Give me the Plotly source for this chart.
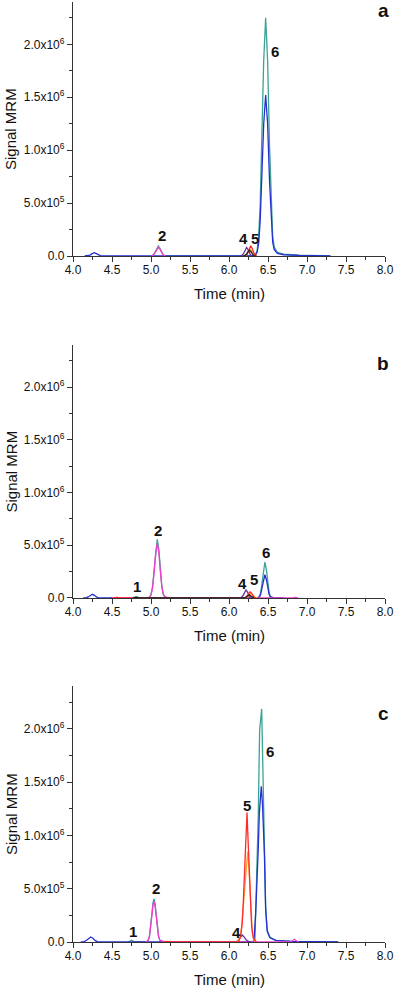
import plotly.graph_objects as go

# ---------------- data (signal in units of 1e5) ----------------
# Panel a
A_TEAL_T = [5.0, 5.03, 5.05, 5.07, 5.094, 5.115, 5.135, 5.155, 5.19,
            6.33, 6.36, 6.38, 6.40, 6.42, 6.445, 6.47, 6.495, 6.52, 6.54, 6.56, 6.58, 6.62, 6.70, 6.90, 7.30]
A_TEAL_Y = [0, 0.1, 0.32, 0.68, 0.94, 0.73, 0.37, 0.12, 0,
            0, 0.5, 1.8, 4.9, 10.3, 18.5, 22.5, 18.5, 10.3, 4.9, 1.9, 0.85, 0.35, 0.18, 0.07, 0]
A_BLUE_T = [4.15, 4.19, 4.22, 4.245, 4.273, 4.30, 4.325, 4.355, 4.39,
            6.33, 6.36, 6.38, 6.40, 6.42, 6.445, 6.47, 6.495, 6.52, 6.54, 6.56, 6.58, 6.62, 6.70, 6.90, 7.30]
A_BLUE_Y = [0, 0.015, 0.09, 0.22, 0.31, 0.22, 0.09, 0.015, 0,
            0, 0.35, 1.2, 3.3, 7.0, 12.5, 15.2, 12.5, 7.0, 3.3, 1.3, 0.6, 0.25, 0.12, 0.05, 0]
A_MAG_T = [5.0, 5.03, 5.05, 5.07, 5.094, 5.115, 5.135, 5.155, 5.19]
A_MAG_Y = [0, 0.09, 0.3, 0.6, 0.82, 0.64, 0.32, 0.1, 0]
A_PUR_T = [6.15, 6.175, 6.19, 6.205, 6.226, 6.245, 6.26, 6.275, 6.30]
A_PUR_Y = [0, 0.11, 0.28, 0.56, 0.80, 0.6, 0.32, 0.12, 0]
A_ORA_T = [6.195, 6.22, 6.235, 6.25, 6.27, 6.29, 6.305, 6.32, 6.345]
A_ORA_Y = [0, 0.09, 0.23, 0.46, 0.66, 0.48, 0.25, 0.09, 0]
A_RED_T = [6.20, 6.227, 6.242, 6.257, 6.278, 6.297, 6.312, 6.327, 6.355]
A_RED_Y = [0, 0.13, 0.34, 0.68, 0.97, 0.73, 0.39, 0.14, 0]
A_BLK_T = [6.19, 6.212, 6.227, 6.242, 6.262, 6.282, 6.297, 6.312, 6.34]
A_BLK_Y = [0, 0.07, 0.19, 0.38, 0.55, 0.4, 0.2, 0.07, 0]

# Panel b
B_TEAL_T = [4.48, 4.51, 4.53, 4.55, 4.58, 4.76, 4.79, 4.81, 4.83, 4.86,
            4.97, 5.00, 5.02, 5.04, 5.06, 5.08, 5.10, 5.12, 5.14, 5.16, 5.19, 5.24,
            6.36, 6.39, 6.405, 6.42, 6.44, 6.46, 6.48, 6.50, 6.515, 6.53, 6.56, 6.62, 6.70]
B_TEAL_Y = [0, 0.04, 0.07, 0.04, 0, 0, 0.08, 0.13, 0.08, 0,
            0, 0.3, 1.06, 2.67, 4.64, 5.56, 4.64, 2.67, 1.06, 0.3, 0.06, 0,
            0, 0.15, 0.5, 1.23, 2.65, 3.41, 2.65, 1.23, 0.5, 0.15, 0.05, 0.02, 0]
B_BLUE_T = [4.13, 4.165, 4.195, 4.22, 4.248, 4.275, 4.30, 4.33, 4.37,
            6.36, 6.39, 6.405, 6.42, 6.44, 6.46, 6.48, 6.50, 6.515, 6.53, 6.56, 6.62, 6.70]
B_BLUE_Y = [0, 0.015, 0.1, 0.25, 0.35, 0.25, 0.1, 0.015, 0,
            0, 0.1, 0.32, 0.8, 1.71, 2.21, 1.71, 0.8, 0.32, 0.1, 0.03, 0.01, 0]
B_MAG_T = [4.50, 4.53, 4.55, 4.57, 4.60,
           4.97, 5.00, 5.02, 5.04, 5.06, 5.08, 5.10, 5.12, 5.14, 5.16, 5.19, 5.26, 5.32,
           6.81, 6.85, 6.89]
B_MAG_Y = [0, 0.05, 0.08, 0.05, 0,
           0, 0.28, 0.99, 2.49, 4.32, 5.18, 4.32, 2.49, 0.99, 0.3, 0.08, 0.02, 0,
           0, 0.05, 0]
B_PUR_T = [6.14, 6.168, 6.183, 6.198, 6.218, 6.238, 6.253, 6.268, 6.295]
B_PUR_Y = [0, 0.1, 0.27, 0.55, 0.76, 0.55, 0.28, 0.1, 0]
B_ORA_T = [6.21, 6.235, 6.25, 6.265, 6.285, 6.305, 6.32, 6.335, 6.36]
B_ORA_Y = [0, 0.06, 0.16, 0.32, 0.45, 0.32, 0.16, 0.06, 0]
B_RED_T = [4.52, 4.56, 4.60, 6.195, 6.22, 6.235, 6.25, 6.27, 6.29, 6.305, 6.32, 6.345]
B_RED_Y = [0, 0.05, 0, 0, 0.08, 0.22, 0.43, 0.6, 0.43, 0.22, 0.08, 0]
B_BLK_T = [4.77, 4.81, 4.85, 6.20, 6.23, 6.26, 6.29, 6.32]
B_BLK_Y = [0, 0.06, 0, 0, 0.15, 0.3, 0.15, 0]

# Panel c
C_TEAL_T = [4.71, 4.735, 4.75, 4.765, 4.79,
            4.93, 4.96, 4.98, 4.995, 5.01, 5.025, 5.038, 5.052, 5.067, 5.082, 5.097, 5.117, 5.16,
            6.32, 6.333, 6.342, 6.36, 6.376, 6.385, 6.393, 6.419, 6.435, 6.449, 6.458, 6.47, 6.49,
            6.525, 6.60, 6.80, 7.40]
C_TEAL_Y = [0, 0.1, 0.16, 0.1, 0,
            0, 0.1, 0.55, 1.35, 2.53, 3.64, 4.04, 3.6, 2.45, 1.27, 0.51, 0.1, 0,
            0, 0.3, 2.8, 6.8, 12.1, 16.5, 19.9, 21.85, 16.5, 12.1, 8.5, 3.2, 1.1,
            0.45, 0.15, 0.06, 0]
C_BLUE_T = [4.10, 4.14, 4.17, 4.20, 4.227, 4.255, 4.285, 4.315, 4.35,
            6.29, 6.32, 6.342, 6.36, 6.376, 6.389, 6.414, 6.43, 6.445, 6.455, 6.47, 6.49,
            6.525, 6.60, 6.80, 7.40]
C_BLUE_Y = [0, 0.03, 0.14, 0.35, 0.47, 0.35, 0.13, 0.03, 0,
            0, 0.1, 2.7, 5.5, 8.9, 12.1, 14.6, 12.8, 10.3, 8.0, 3.0, 1.0,
            0.4, 0.15, 0.06, 0]
C_MAG_T = [4.93, 4.96, 4.98, 4.995, 5.01, 5.025, 5.038, 5.052, 5.067, 5.082, 5.097, 5.117, 5.16, 5.27, 5.30,
           6.79, 6.815, 6.84, 6.865, 6.89]
C_MAG_Y = [0, 0.1, 0.51, 1.25, 2.39, 3.41, 3.79, 3.38, 2.3, 1.2, 0.5, 0.15, 0.06, 0.04, 0,
           0, 0.12, 0.25, 0.12, 0]
C_PUR_T = [6.09, 6.12, 6.145, 6.171, 6.195, 6.22, 6.25, 6.28]
C_PUR_Y = [0, 0.15, 0.45, 0.66, 0.45, 0.2, 0.05, 0]
C_ORA_T = [6.10, 6.14, 6.165, 6.185, 6.20, 6.22, 6.239, 6.255, 6.27, 6.285, 6.30, 6.32, 6.34]
C_ORA_Y = [0, 0.4, 1.6, 3.5, 5.0, 7.3, 8.48, 7.0, 4.5, 2.2, 0.8, 0.2, 0]
C_RED_T = [5.15, 5.20, 5.27,
           6.12, 6.15, 6.17, 6.185, 6.20, 6.215, 6.231, 6.245, 6.26, 6.275, 6.29, 6.31, 6.33, 6.35]
C_RED_Y = [0, 0.05, 0,
           0, 0.5, 1.8, 4.0, 6.5, 9.5, 12.14, 9.5, 6.5, 3.5, 1.5, 0.4, 0.25, 0]

# tick labels
Y_TICKVALS = [0, 5, 10, 15, 20]
Y_TICKTEXT = ["0.0", "5.0x10<sup>5</sup>", "1.0x10<sup>6</sup>",
              "1.5x10<sup>6</sup>", "2.0x10<sup>6</sup>"]

# peak labels: (text, time, signal)
A_LABELS = [("2", 5.14, 1.98), ("4", 6.19, 1.63), ("5", 6.33, 1.63), ("6", 6.59, 19.3)]
B_LABELS = [("1", 4.82, 1.07), ("2", 5.09, 6.45), ("4", 6.175, 1.39), ("5", 6.32, 1.77), ("6", 6.48, 4.29)]
C_LABELS = [("1", 4.765, 1.0), ("2", 5.06, 5.04), ("4", 6.09, 0.91), ("5", 6.23, 12.8), ("6", 6.53, 17.9)]
PANEL_LETTERS = ["a", "b", "c"]

# ---------------- styling ----------------
COL = {
    "teal": "#3aa394",
    "blue": "#2630d2",
    "mag": "#f43bd0",
    "pur": "#6a2fa6",
    "ora": "#ffa030",
    "red": "#ff2a2a",
    "blk": "#202020",
}
FONT = "Liberation Sans, Arial, sans-serif"
AXC = "#333333"

panels = [
    ("", [("teal", A_TEAL_T, A_TEAL_Y), ("blue", A_BLUE_T, A_BLUE_Y), ("mag", A_MAG_T, A_MAG_Y),
          ("pur", A_PUR_T, A_PUR_Y), ("ora", A_ORA_T, A_ORA_Y), ("red", A_RED_T, A_RED_Y),
          ("blk", A_BLK_T, A_BLK_Y)], A_LABELS),
    ("2", [("teal", B_TEAL_T, B_TEAL_Y), ("blue", B_BLUE_T, B_BLUE_Y), ("mag", B_MAG_T, B_MAG_Y),
           ("pur", B_PUR_T, B_PUR_Y), ("ora", B_ORA_T, B_ORA_Y), ("red", B_RED_T, B_RED_Y),
           ("blk", B_BLK_T, B_BLK_Y)], B_LABELS),
    ("3", [("teal", C_TEAL_T, C_TEAL_Y), ("blue", C_BLUE_T, C_BLUE_Y), ("mag", C_MAG_T, C_MAG_Y),
           ("pur", C_PUR_T, C_PUR_Y), ("ora", C_ORA_T, C_ORA_Y), ("red", C_RED_T, C_RED_Y)], C_LABELS),
]

W, H = 394, 989
ML, MR, MT, MB = 73, 9, 2, 47
PW = W - ML - MR
domains = [[0.72979, 1.0], [0.36596, 0.63511], [0.0, 0.27234]]
panel_px_h = [254, 253, 256]
letter_px_dy = [9, 19, 27]   # letter centre below panel top

fig = go.Figure()
annotations = []
for i, (suf, traces, labels) in enumerate(panels):
    xa, ya = "x" + suf, "y" + suf
    for cname, t, y in traces:
        fig.add_trace(go.Scatter(x=t, y=y, mode="lines", xaxis=xa, yaxis=ya,
                                 line=dict(color=COL[cname], width=1.3),
                                 showlegend=False, hoverinfo="skip"))
    for txt, tx, ty in labels:
        annotations.append(dict(text="<b>%s</b>" % txt, x=tx, y=ty, xref=xa, yref=ya,
                                xanchor="center", yanchor="middle",
                                showarrow=False, font=dict(family=FONT, size=15, color="#111")))
    annotations.append(dict(text="<b>%s</b>" % PANEL_LETTERS[i], x=(391 - ML) / PW,
                            y=1 - letter_px_dy[i] / panel_px_h[i],
                            xref=xa + " domain", yref=ya + " domain",
                            xanchor="right", yanchor="middle", showarrow=False,
                            font=dict(family=FONT, size=19, color="#111")))
    annotations.append(dict(text="Signal MRM", textangle=-90, x=(11 - ML) / PW, y=0.5,
                            xref="paper", yref=ya + " domain", showarrow=False,
                            xanchor="center", yanchor="middle",
                            font=dict(family=FONT, size=15, color="#111")))
    annotations.append(dict(text="Time (min)", x=0.5, y=-38 / panel_px_h[i],
                            xref=xa + " domain", yref=ya + " domain", showarrow=False,
                            xanchor="center", yanchor="middle",
                            font=dict(family=FONT, size=15, color="#111")))

    axis_common = dict(showgrid=False, zeroline=False, showline=True, linecolor=AXC, linewidth=1.3,
                       ticks="outside", ticklen=5, tickwidth=1, tickcolor=AXC, automargin=False,
                       tickfont=dict(family=FONT, size=12, color="#111"))
    xkey = "xaxis" + suf
    ykey = "yaxis" + suf
    fig.update_layout(**{
        xkey: dict(axis_common, range=[4, 8], tickmode="linear", tick0=4, dtick=0.5,
                   tickformat=".1f", anchor=ya, domain=[0, 1], ticklabelstandoff=-3,
                   minor=dict(ticks="outside", ticklen=3, tick0=4, dtick=0.25, tickcolor=AXC)),
        ykey: dict(axis_common, range=[0, 24], tickmode="array", tickvals=Y_TICKVALS,
                   ticktext=Y_TICKTEXT, anchor=xa, domain=domains[i],
                   minor=dict(ticks="outside", ticklen=3, tick0=0, dtick=2.5, tickcolor=AXC)),
    })

fig.update_layout(width=W, height=H, margin=dict(l=ML, r=MR, t=MT, b=MB, autoexpand=False),
                  paper_bgcolor="white", plot_bgcolor="white",
                  annotations=annotations, font=dict(family=FONT))
fig.write_html("out.html", config={"displayModeBar": False},
               post_script="document.body.style.margin='0';")
